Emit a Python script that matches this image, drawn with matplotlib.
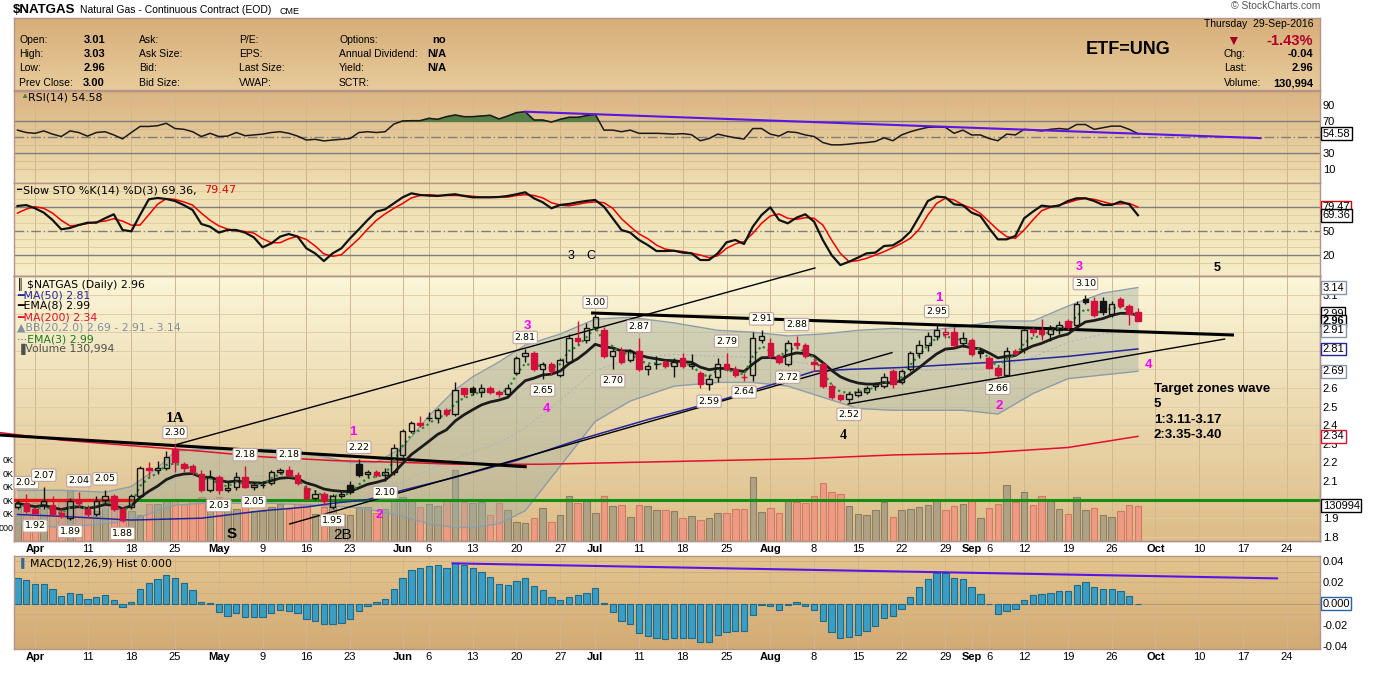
import numpy as np
import pandas as pd
import matplotlib
matplotlib.use("Agg")
import matplotlib.pyplot as plt
import matplotlib.transforms as mtransforms
from matplotlib.colors import LinearSegmentedColormap

plt.rcParams["font.family"] = ["Liberation Sans", "DejaVu Sans"]

# ---- $NATGAS daily, 30-Mar-2016 .. 29-Sep-2016 ----
holidays = ["2016-05-30", "2016-07-04", "2016-09-05"]

opens = [1.96, 1.98, 1.95, 1.97, 1.97, 1.93, 1.90, 2.00, 1.95, 1.92,
         2.00, 2.02, 1.95, 1.96, 2.02, 2.17, 2.16, 2.17, 2.27, 2.19,
         2.18, 2.14, 2.05, 2.12, 2.05, 2.07, 2.12, 2.07, 2.08, 2.09,
         2.15, 2.16, 2.13, 2.06, 2.01, 2.03, 1.96, 2.02, 2.08, 2.19,
         2.14, 2.15, 2.13, 2.15, 2.24, 2.37, 2.41, 2.44, 2.44, 2.48,
         2.46, 2.60, 2.60, 2.58, 2.60, 2.58, 2.57, 2.68, 2.77, 2.79,
         2.70, 2.73, 2.67, 2.74, 2.87, 2.86, 2.93, 2.91, 2.77, 2.80,
         2.75, 2.80, 2.70, 2.73, 2.74, 2.72, 2.76, 2.72, 2.68, 2.62,
         2.66, 2.73, 2.70, 2.66, 2.67, 2.86, 2.84, 2.77, 2.73, 2.84,
         2.83, 2.74, 2.73, 2.61, 2.56, 2.54, 2.56, 2.58, 2.61, 2.61,
         2.69, 2.63, 2.70, 2.79, 2.83, 2.88, 2.89, 2.90, 2.84, 2.86,
         2.80, 2.76, 2.71, 2.67, 2.80, 2.81, 2.91, 2.91, 2.89, 2.91,
         2.96, 2.94, 3.08, 3.07, 3.07, 3.00, 3.08, 3.04, 3.01]
highs = [2.00, 2.03, 1.96, 2.07, 2.02, 1.95, 2.01, 2.04, 1.97, 2.02,
         2.05, 2.03, 1.96, 2.03, 2.18, 2.20, 2.21, 2.26, 2.30, 2.20,
         2.19, 2.16, 2.16, 2.13, 2.10, 2.15, 2.18, 2.09, 2.10, 2.16,
         2.17, 2.18, 2.15, 2.08, 2.05, 2.04, 2.03, 2.05, 2.10, 2.22,
         2.16, 2.16, 2.17, 2.30, 2.38, 2.42, 2.45, 2.47, 2.49, 2.49,
         2.63, 2.60, 2.61, 2.62, 2.61, 2.59, 2.62, 2.77, 2.81, 2.80,
         2.74, 2.74, 2.76, 2.89, 2.96, 2.95, 3.00, 2.93, 2.81, 2.82,
         2.81, 2.87, 2.73, 2.77, 2.75, 2.76, 2.79, 2.78, 2.69, 2.67,
         2.76, 2.79, 2.72, 2.68, 2.90, 2.91, 2.87, 2.78, 2.86, 2.88,
         2.84, 2.76, 2.74, 2.62, 2.57, 2.58, 2.60, 2.61, 2.63, 2.68,
         2.70, 2.70, 2.80, 2.86, 2.90, 2.95, 2.92, 2.93, 2.90, 2.87,
         2.81, 2.77, 2.72, 2.82, 2.81, 2.92, 2.93, 2.97, 2.94, 2.96,
         2.97, 3.07, 3.10, 3.09, 3.09, 3.07, 3.09, 3.05, 3.03]
lows = [1.95, 1.93, 1.92, 1.95, 1.91, 1.90, 1.89, 1.96, 1.90, 1.91,
        1.98, 1.94, 1.88, 1.95, 2.01, 2.12, 2.14, 2.16, 2.15, 2.15,
        2.13, 2.04, 2.04, 2.03, 2.04, 2.05, 2.06, 2.05, 2.06, 2.08,
        2.14, 2.12, 2.08, 2.00, 2.00, 1.97, 1.95, 2.01, 2.03, 2.12,
        2.12, 2.12, 2.10, 2.13, 2.22, 2.36, 2.39, 2.42, 2.41, 2.45,
        2.45, 2.55, 2.56, 2.55, 2.57, 2.55, 2.55, 2.67, 2.74, 2.69,
        2.65, 2.67, 2.66, 2.73, 2.83, 2.84, 2.91, 2.76, 2.70, 2.73,
        2.74, 2.69, 2.67, 2.70, 2.71, 2.66, 2.71, 2.70, 2.60, 2.59,
        2.63, 2.69, 2.66, 2.64, 2.64, 2.84, 2.76, 2.73, 2.72, 2.81,
        2.76, 2.69, 2.60, 2.54, 2.53, 2.52, 2.55, 2.57, 2.59, 2.60,
        2.60, 2.62, 2.69, 2.76, 2.80, 2.86, 2.87, 2.82, 2.82, 2.77,
        2.76, 2.70, 2.66, 2.67, 2.77, 2.79, 2.88, 2.86, 2.85, 2.89,
        2.91, 2.93, 3.05, 2.98, 2.99, 2.98, 3.03, 2.94, 2.96]
closes = [1.98, 1.94, 1.93, 1.99, 1.92, 1.91, 1.99, 1.98, 1.92, 1.99,
          2.02, 1.95, 1.89, 2.02, 2.17, 2.16, 2.17, 2.23, 2.20, 2.17,
          2.15, 2.05, 2.12, 2.05, 2.06, 2.12, 2.07, 2.08, 2.08, 2.15,
          2.16, 2.13, 2.09, 2.01, 2.03, 1.99, 2.02, 2.03, 2.04, 2.13,
          2.15, 2.13, 2.15, 2.28, 2.37, 2.41, 2.40, 2.44, 2.48, 2.46,
          2.59, 2.57, 2.58, 2.60, 2.58, 2.57, 2.60, 2.76, 2.79, 2.70,
          2.73, 2.69, 2.75, 2.87, 2.85, 2.92, 2.98, 2.77, 2.80, 2.74,
          2.80, 2.70, 2.72, 2.73, 2.72, 2.74, 2.72, 2.73, 2.62, 2.65,
          2.73, 2.70, 2.67, 2.66, 2.87, 2.88, 2.77, 2.74, 2.84, 2.83,
          2.77, 2.73, 2.61, 2.55, 2.54, 2.57, 2.58, 2.60, 2.62, 2.66,
          2.62, 2.69, 2.79, 2.83, 2.88, 2.91, 2.90, 2.83, 2.87, 2.78,
          2.79, 2.71, 2.67, 2.80, 2.79, 2.91, 2.90, 2.89, 2.93, 2.94,
          2.93, 3.05, 3.06, 2.99, 3.01, 3.05, 3.04, 3.00, 2.96]
volume_k = [130, 137, 140, 150, 125, 150, 187, 150, 112, 112,
            145, 162, 137, 112, 95, 137, 137, 150, 150, 137,
            150, 162, 130, 162, 125, 118, 137, 112, 112, 125,
            137, 118, 137, 137, 100, 125, 130, 100, 95, 125,
            125, 105, 118, 150, 162, 150, 125, 137, 130, 150,
            262, 146, 141, 146, 96, 141, 115, 71, 66, 85,
            122, 71, 96, 167, 141, 152, 104, 167, 130, 134,
            90, 134, 130, 115, 115, 110, 85, 92, 77, 85,
            104, 104, 118, 118, 238, 107, 122, 104, 150, 145,
            141, 167, 216, 182, 175, 130, 100, 96, 115, 145,
            89, 115, 118, 127, 134, 150, 116, 130, 137, 150,
            85, 122, 137, 208, 145, 182, 134, 167, 150, 118,
            100, 162, 115, 122, 96, 89, 111, 134, 131]

rsi = [59, 56, 55, 58, 54, 51, 58, 56, 51.5, 56,
       57, 53, 48, 56, 63.6, 63.6, 64.5, 67.5, 61, 60,
       57, 51, 55, 51, 51.5, 56, 52, 53, 54, 56,
       57, 55, 51.5, 46.6, 47.5, 45.5, 46.6, 47.5, 48.5, 56,
       57, 56, 57, 66.6, 70.4, 70.8, 70.8, 73.7, 72.5, 75.8,
       77.9, 75.8, 75.8, 76.6, 77.5, 72.9, 76.6, 80.8, 82, 71.6,
       71.6, 69, 72.5, 75, 75, 77, 78.7, 59, 59, 57,
       59, 55, 55, 55, 54.6, 54, 54.6, 53.3, 45.7, 48.5,
       54, 51.5, 49.4, 47.8, 61, 61, 54, 51.5, 57, 56,
       53, 51, 43.5, 40.6, 40.6, 41.5, 42.7, 43.5, 44.8, 49.4,
       45.7, 53, 57, 60, 62.5, 63, 62.5, 55, 59, 53,
       53, 48.5, 45.7, 54, 53, 60, 59, 58, 60, 61,
       60, 66, 66, 60, 62, 64, 64, 60, 54.58]
sto_k = [80.9, 82, 78, 72.6, 63.4, 51.7, 53.4, 57.1, 60, 60,
         65.5, 70.5, 50.9, 49.2, 69.6, 89.2, 90.9, 89.6, 87.1, 82,
         75.9, 58.4, 55, 47.6, 50.9, 50.9, 47.6, 41.7, 29.2, 34.2,
         42.6, 45.9, 42.6, 28, 21.7, 12.1, 21.7, 28, 40.5, 51.7,
         63.4, 73.8, 76.7, 84.2, 91.7, 96.7, 94.6, 93.8, 93.4, 94.6,
         95.5, 93.4, 91.7, 91.7, 91.7, 92.1, 93.4, 95.5, 98, 90.5,
         85.5, 78, 82.2, 83.4, 85.5, 87.2, 88.4, 80, 65.5, 50.9,
         47.6, 38.4, 32.1, 24.6, 24.6, 25, 22.6, 21.7, 13.4, 13.4,
         21.7, 35.5, 38.4, 33.4, 55, 69.6, 79.2, 63.4, 59.2, 66.3,
         70.5, 61.3, 38.4, 19.6, 7.1, 11.3, 16.3, 21.7, 22.6, 30.9,
         31.7, 38.4, 48.8, 67.5, 87.1, 92.5, 91.7, 83, 81.7, 72.6,
         68.4, 53, 39.2, 39.2, 43.4, 65.5, 73.8, 81.3, 80, 81.3,
         87.1, 90.5, 90.5, 87.1, 82.2, 82.2, 86.3, 83, 69.36]
sto_d = [72, 77, 80, 78, 72, 63, 56, 57, 59, 61,
         62, 65, 62, 57, 57, 70, 83, 90, 89, 86,
         82, 72, 63, 56, 52, 50, 49, 47, 40, 35,
         35, 40, 43, 39, 31, 21, 18, 20, 30, 40,
         52, 63, 71, 78, 84, 91, 94, 95, 94, 94,
         94, 94, 93, 92, 92, 92, 92, 94, 95, 94,
         91, 85, 82, 81, 83, 85, 86, 85, 78, 65,
         55, 46, 40, 32, 27, 25, 24, 22, 19.6, 16.3,
         18.8, 28, 33.4, 36.3, 46.7, 59.2, 68.4, 70.9, 65.5, 64.2,
         66.3, 65.5, 57.1, 38.4, 21.7, 11.3, 12.6, 15.5, 19.6, 23.8,
         28.8, 34.2, 40.5, 51.7, 69.6, 84.2, 90.5, 88.4, 82.2, 78,
         71.7, 61.3, 50.9, 42.6, 40.5, 50.9, 63.4, 75, 79.2, 82.2,
         85, 88.4, 90.5, 89.2, 86.3, 83.4, 83.4, 84.2, 79.47]
macd_hist = [0.0246, 0.0221, 0.0184, 0.0184, 0.0134, 0.0072, 0.0097, 0.0091, 0.0041, 0.0060,
             0.0081, 0.0031, -0.0028, 0.0016, 0.0134, 0.0190, 0.0228, 0.0269, 0.0238, 0.0190,
             0.0125, 0.0016, 0.0003, -0.0078, -0.0116, -0.0091, -0.0122, -0.0129, -0.0129, -0.0091,
             -0.0059, -0.0066, -0.0091, -0.0147, -0.0160, -0.0191, -0.0191, -0.0179, -0.0147, -0.0072,
             -0.0019, 0.0013, 0.0041, 0.0134, 0.0238, 0.0313, 0.0332, 0.0354, 0.0363, 0.0332,
             0.0379, 0.0363, 0.0332, 0.0301, 0.0248, 0.0182, 0.0176, 0.0216, 0.0238, 0.0169,
             0.0125, 0.0060, 0.0035, 0.0066, 0.0079, 0.0103, 0.0144, 0.0003, -0.0078, -0.0163,
             -0.0191, -0.0279, -0.0304, -0.0326, -0.0335, -0.0326, -0.0326, -0.0320, -0.0357, -0.0357,
             -0.0295, -0.0266, -0.0254, -0.0254, -0.0106, -0.0016, -0.0022, -0.0059, -0.0013, 0.0016,
             -0.0022, -0.0059, -0.0163, -0.0266, -0.0326, -0.0316, -0.0295, -0.0254, -0.0210, -0.0138,
             -0.0116, -0.0053, 0.0060, 0.0154, 0.0228, 0.0291, 0.0291, 0.0238, 0.0228, 0.0154,
             0.0091, -0.0003, -0.0097, -0.0066, -0.0053, 0.0031, 0.0078, 0.0091, 0.0103, 0.0122,
             0.0116, 0.0175, 0.0200, 0.0159, 0.0134, 0.0134, 0.0116, 0.0072, -0.0006]

# overlay lines, read at a few days
bb_x = [0, 5, 10, 13, 16, 18, 21, 25, 29, 34, 38, 41, 44, 47, 50, 52, 55, 58, 62, 66,
        70, 75, 80, 84, 88, 92, 96, 100, 104, 108, 112, 116, 120, 124, 128]
bb_upper = [2.05, 2.05, 2.04, 2.07, 2.17, 2.26, 2.27, 2.27, 2.27, 2.24, 2.20, 2.20, 2.28, 2.45,
            2.59, 2.66, 2.74, 2.83, 2.89, 2.97, 2.98, 2.95, 2.91, 2.90, 2.88, 2.89, 2.91, 2.92,
            2.91, 2.93, 2.96, 2.96, 3.04, 3.11, 3.14]
bb_lower = [1.87, 1.85, 1.87, 1.89, 1.94, 1.97, 1.98, 1.98, 1.98, 1.97, 1.96, 1.94, 1.91, 1.87,
            1.85, 1.85, 1.87, 1.94, 2.18, 2.42, 2.53, 2.61, 2.63, 2.63, 2.61, 2.55, 2.49, 2.48,
            2.48, 2.48, 2.46, 2.57, 2.65, 2.67, 2.69]
ma50_x = [0, 5, 13, 21, 28, 33, 36, 40, 44, 50, 57, 64, 72, 80, 87, 91, 95, 101, 112, 120, 128]
ma50 = [1.92, 1.91, 1.89, 1.90, 1.94, 1.96, 1.98, 2.00, 2.05, 2.12, 2.21, 2.32, 2.43, 2.53,
        2.63, 2.69, 2.70, 2.71, 2.74, 2.77, 2.81]
ma200_x = [-2, 5, 13, 21, 28, 36, 44, 50, 60, 70, 80, 90, 100, 110, 120, 128]
ma200 = [2.36, 2.32, 2.29, 2.26, 2.23, 2.21, 2.20, 2.19, 2.19, 2.20, 2.21, 2.22, 2.24, 2.25,
         2.28, 2.34]

# hand-drawn trend lines: (day0, price0, day1, price1)
trend_lines = [(-2.0, 2.347, 58.0, 2.177), (18.0, 2.294, 91.1, 3.245),
               (31.1, 1.869, 99.9, 2.790), (65.7, 3.003, 138.8, 2.885),
               (94.9, 2.514, 137.9, 2.863)]
rsi_trend = [(58, 82.0), (142, 49.0)]
macd_trend = [(49.7, 0.0379), (143.9, 0.0238)]

# swing highs / lows that carry a price tag
swing_high = [1, 3, 7, 10, 18, 26, 31, 39, 58, 66, 71, 81, 85, 89, 105, 122]
swing_low = [2, 6, 12, 23, 27, 36, 42, 60, 68, 79, 83, 88, 95, 112]

tick_dates = ["2016-04-01", "2016-04-11", "2016-04-18", "2016-04-25", "2016-05-02",
              "2016-05-09", "2016-05-16", "2016-05-23", "2016-06-01", "2016-06-06",
              "2016-06-13", "2016-06-20", "2016-06-27", "2016-07-01", "2016-07-11",
              "2016-07-18", "2016-07-25", "2016-08-01", "2016-08-08", "2016-08-15",
              "2016-08-22", "2016-08-29", "2016-09-01", "2016-09-06", "2016-09-12",
              "2016-09-19", "2016-09-26", "2016-10-03", "2016-10-10", "2016-10-17",
              "2016-10-24"]
tick_labels = ["Apr", "11", "18", "25", "May", "9", "16", "23", "Jun", "6", "13", "20", "27",
               "Jul", "11", "18", "25", "Aug", "8", "15", "22", "29", "Sep", "6", "12", "19",
               "26", "Oct", "10", "17", "24"]

# ---------------------------------------------------------------------------
days = pd.bdate_range("2016-03-30", "2016-10-31", freq="C", holidays=holidays)
tick_pos = [days.get_loc(pd.Timestamp(t)) for t in tick_dates]

o, h, l, c = (np.array(v) for v in (opens, highs, lows, closes))
x = np.arange(len(c))
prev = np.r_[c[0], c[:-1]]
up = c >= prev
ema8 = pd.Series(c).ewm(span=8, adjust=False).mean()
ema3 = pd.Series(c).ewm(span=3, adjust=False).mean()
bb_mid = (np.array(bb_upper) + np.array(bb_lower)) / 2

W, H = 1375, 674
fig = plt.figure(figsize=(W / 100, H / 100), dpi=100)
fig.patch.set_facecolor("white")
XL = (-0.4, 148.8)
GRID = "#CFB78F"
BORDER = "#B3938A"


def pax(x0, y0, x1, y1):
    return fig.add_axes([x0 / W, 1 - y1 / H, (x1 - x0) / W, (y1 - y0) / H])


def ftext(px, py, s, **kw):
    kw.setdefault("va", "center")
    return fig.text(px / W, 1 - py / H, s, **kw)


def shade(ax, top, bottom):
    cm = LinearSegmentedColormap.from_list("g", [bottom, top])
    ax.imshow(np.linspace(0, 1, 64).reshape(-1, 1), cmap=cm, aspect="auto",
              extent=[0, 1, 0, 1], origin="lower", transform=ax.transAxes, zorder=0)


def frame(ax):
    for s in ax.spines.values():
        s.set_color(BORDER)
        s.set_linewidth(1)
    ax.tick_params(length=0, labelsize=8, pad=2)


def vgrid(ax):
    for p in tick_pos:
        ax.axvline(p, color=GRID, lw=0.7, zorder=0.5)


def rbox(ax, yv, s, ec, ytrans=None, bold=False, tc="black"):
    tr = mtransforms.blended_transform_factory(ax.transAxes, ytrans or ax.transData)
    ax.text(1.002, yv, s, transform=tr, ha="left", va="center", fontsize=8, color=tc,
            fontweight="bold" if bold else "normal", clip_on=False, zorder=30,
            bbox=dict(boxstyle="square,pad=0.12", fc="white", ec=ec, lw=1))


# ---- title + header ----
ftext(13, 10, "$NATGAS", fontsize=9.5, fontweight="bold")
ftext(80, 10, "Natural Gas - Continuous Contract (EOD)", fontsize=7.5)
ftext(279, 11, "CME", fontsize=6.5)
ftext(1320, 6, "\u00a9 StockCharts.com", fontsize=7.5, ha="right", color="#555555")

hdr = pax(14, 18, 1320, 90)
shade(hdr, "#D6AE79", "#E8CB9B")
hdr.set_xlim(0, 1)
hdr.set_ylim(0, 1)
hdr.set_xticks([])
hdr.set_yticks([])
frame(hdr)

rows = [40, 54, 68, 83]
for lab, val, yy in zip(["Open:", "High:", "Low:", "Prev Close:"],
                        [o[-1], h[-1], l[-1], c[-2]], rows):
    ftext(19, yy, lab, fontsize=7.5)
    ftext(105, yy, f"{val:.2f}", fontsize=8, fontweight="bold", ha="right")
for lab, yy in zip(["Ask:", "Ask Size:", "Bid:", "Bid Size:"], rows):
    ftext(139, yy, lab, fontsize=7.5)
for lab, yy in zip(["P/E:", "EPS:", "Last Size:", "VWAP:"], rows):
    ftext(239, yy, lab, fontsize=7.5)
for lab, val, yy in zip(["Options:", "Annual Dividend:", "Yield:", "SCTR:"],
                        ["no", "N/A", "N/A", ""], rows):
    ftext(339, yy, lab, fontsize=7.5)
    ftext(446, yy, val, fontsize=8, fontweight="bold", ha="right")
ftext(1128, 50, "ETF=UNG", fontsize=13, fontweight="bold", ha="center")
ftext(1313, 24, "Thursday  29-Sep-2016", fontsize=7.5, ha="right")
ftext(1233, 41, "\u25bc", fontsize=10, color="#A3002A", ha="center")
ftext(1313, 41, "-1.43%", fontsize=10.5, fontweight="bold", color="#B0002A", ha="right")
for lab, val, yy in zip(["Chg:", "Last:", "Volume:"],
                        [f"{c[-1] - c[-2]:.2f}", f"{c[-1]:.2f}", "130,994"], rows[1:]):
    ftext(1224, yy, lab, fontsize=7.5)
    ftext(1313, yy, val, fontsize=8, fontweight="bold", ha="right")

# ---- RSI panel ----
ar = pax(14, 91, 1320, 183)
shade(ar, "#DCB481", "#EEDDB0")
vgrid(ar)
for v in [10, 20, 40, 60, 80, 90, 100]:
    ar.axhline(v, color="#D3BC93", lw=0.6, zorder=0.6)
ar.axhline(70, color="#7E7E7E", lw=1, zorder=1)
ar.axhline(30, color="#7E7E7E", lw=1, zorder=1)
ar.axhline(50, color="#7E7E7E", lw=1, ls=(0, (7, 2, 1, 2)), zorder=1)
ra = np.array(rsi)
ar.fill_between(x, ra, 70, where=ra > 70, interpolate=True, color="#567F45", zorder=2)
ar.plot(x, ra, color="#1A1A1A", lw=1.1, zorder=3)
ar.plot([p[0] for p in rsi_trend], [p[1] for p in rsi_trend], color="#5A14E6", lw=1.5, zorder=4)
ar.set_xlim(*XL)
ar.set_ylim(-7.1, 107.9)
ar.set_xticks([])
ar.yaxis.tick_right()
ar.set_yticks([10, 30, 70, 90])
frame(ar)
rbox(ar, rsi[-1], f"{rsi[-1]:.2f}", "black")
ftext(20, 97, "\u25b2", fontsize=6, color="#4F7F3F")
ftext(28, 97, "RSI(14) 54.58", fontsize=7.8, family="DejaVu Sans")

# ---- Slow stochastic panel ----
ast = pax(14, 183, 1320, 276)
shade(ast, "#EEDDAF", "#F6EDC6")
vgrid(ast)
for v in [10, 30, 40, 60, 70, 90, 100]:
    ast.axhline(v, color="#DCC9A0", lw=0.6, zorder=0.6)
ast.axhline(80, color="#7E7E7E", lw=1, zorder=1)
ast.axhline(20, color="#7E7E7E", lw=1, zorder=1)
ast.axhline(50, color="#7E7E7E", lw=1, ls=(0, (7, 2, 1, 2)), zorder=1)
ast.plot(x, sto_d, color="#F00000", lw=1.1, zorder=3)
ast.plot(x, sto_k, color="#111111", lw=1.6, zorder=4)
ast.set_xlim(*XL)
ast.set_ylim(-6.6, 109.6)
ast.set_xticks([])
ast.yaxis.tick_right()
ast.set_yticks([20, 50])
frame(ast)
rbox(ast, sto_d[-1], f"{sto_d[-1]:.2f}", "#E00000")
rbox(ast, sto_k[-1], f"{sto_k[-1]:.2f}", "black")
ftext(16, 190, "\u2501", fontsize=6)
ftext(23, 190, "Slow STO %K(14) %D(3) 69.36,", fontsize=8, family="DejaVu Sans")
ftext(204, 190, "79.47", fontsize=8, family="DejaVu Sans", color="#E00000")
ast.text(63.2, 18.4, "3", fontsize=9, ha="center", va="center")
ast.text(65.5, 18.4, "C", fontsize=9, ha="center", va="center")
ast.text(121.3, 4.6, "3", fontsize=9, fontweight="bold", color="#FF00FF", ha="center", va="center")
ast.text(137.1, 3.4, "5", fontsize=9, fontweight="bold", ha="center", va="center")

# ---- price panel (volume axis underneath) ----
av = pax(14, 276, 1320, 541)
shade(av, "#FBF6D8", "#DDBD88")
ax = av.twinx()
av.set_xlim(*XL)
av.set_ylim(0, 980)
ax.set_ylim(1.7774, 3.202)
vgrid(av)
ptr = mtransforms.blended_transform_factory(av.transAxes, ax.transData)
for p in np.arange(1.8, 3.25, 0.1):
    av.plot([0, 1], [p, p], transform=ptr, color="#DCCBA2", lw=0.6, zorder=0.6)
av.bar(x, volume_k, width=0.75, color=np.where(up, "#AEA184", "#EC9B84"),
       edgecolor=np.where(up, "#8C7F64", "#D77962"), lw=0.8, zorder=1)
av.yaxis.tick_left()
av.set_yticks([50, 100, 150, 200, 250, 300])
av.set_yticklabels(["000", "0K", "0K", "0K", "0K", "0K"])
av.set_xticks(tick_pos)
av.set_xticklabels(tick_labels)
frame(av)
av.tick_params(axis="y", pad=0.5, labelsize=6.5)
for t in av.get_xticklabels():
    if t.get_text().isalpha():
        t.set_fontweight("bold")

ax.fill_between(bb_x, bb_lower, bb_upper, color="#9FAD9E", alpha=0.42, lw=0, zorder=2)
ax.plot(bb_x, bb_upper, color="#8E9DAA", lw=1, zorder=2.2)
ax.plot(bb_x, bb_lower, color="#8E9DAA", lw=1, zorder=2.2)
ax.plot(bb_x, bb_mid, color="#AEB6B8", lw=0.8, ls=(0, (2, 2)), zorder=2.2)
ax.axhline(2.0, color="#119011", lw=2.2, zorder=2.5)
ax.plot([-0.4, 13.2], [2.0, 2.0], color="#E41414", lw=2.4, zorder=2.6)
ax.plot(ma200_x, ma200, color="#E3102C", lw=1.1, zorder=3, clip_on=False)
ax.plot(ma50_x, ma50, color="#24249E", lw=1.1, zorder=3)
for i0, p0, i1, p1 in trend_lines:
    thick = abs(p1 - p0) / abs(i1 - i0) < 0.004
    ax.plot([i0, i1], [p0, p1], color="black", lw=2.2 if thick else 1.0, zorder=3.2,
            clip_on=False)
ax.plot(x, ema8, color="#1C1C1C", lw=2, zorder=3.5)
ax.plot(x, ema3, color="#23892A", lw=1.6, ls=(0, (1, 1.5)), zorder=3.6)

# candles
col = np.where(up, "#141414", "#D3103B")
lo_b = np.minimum(o, c)
hi_b = np.maximum(o, c)
ax.vlines(x, hi_b, h, colors=col, lw=1, zorder=5)
ax.vlines(x, l, lo_b, colors=col, lw=1, zorder=5)
face = [("none" if c[k] > o[k] else col[k]) for k in range(len(c))]
ax.bar(x, np.maximum(hi_b - lo_b, 0.001), bottom=lo_b, width=0.62, color=face,
       edgecolor=col, lw=1, zorder=6)

tag = dict(ha="center", fontsize=6.8, family="DejaVu Sans", zorder=8,
           bbox=dict(boxstyle="round,pad=0.18", fc="#FFFFF6", ec="#BFA2A2", lw=0.8))
for k in swing_high:
    ax.annotate(f"{h[k]:.2f}", (k, h[k]), xytext=(0, 5), textcoords="offset points",
                va="bottom", **tag)
for k in swing_low:
    ax.annotate(f"{l[k]:.2f}", (k, l[k]), xytext=(0, -5), textcoords="offset points",
                va="top", **tag)

ax.set_xlim(*XL)
ax.set_yticks([1.8, 1.9, 2.1, 2.2, 2.3, 2.4, 2.5, 2.6, 3.1])
ax.set_yticklabels(["1.8", "1.9", "2.1", "2.2", "2.3", "2.4", "2.5", "2.6", "3.1"])
frame(ax)

# wave labels
mag = dict(color="#FF00FF", fontsize=9.5, fontweight="bold", ha="center", va="center")
for s, xi, yp in [("1", 38.3, 2.363), ("2", 41.3, 1.917), ("3", 58.2, 2.933), ("4", 60.4, 2.487),
                  ("1", 105.3, 3.084), ("2", 112.1, 2.503), ("4", 129.2, 2.724)]:
    ax.text(xi, yp, s, **mag)
ax.text(18.0, 2.435, "1A", fontsize=11, fontweight="bold", family="Liberation Serif",
        ha="center", va="center")
ax.text(24.5, 1.815, "S", fontsize=11, fontweight="bold", ha="center", va="center")
ax.text(37.1, 1.81, "2B", fontsize=11, ha="center", va="center")
ax.text(94.3, 2.342, "4", fontsize=10, fontweight="bold", family="Liberation Serif",
        ha="center", va="center")
ax.text(129.8, 2.627, "Target zones wave\n5\n1:3.11-3.17\n2:3.35-3.40", fontsize=9.5,
        fontweight="bold", ha="left", va="top", linespacing=1.38)

# right side value boxes (2.99 sits partly under the last-close tag, as on the chart)
rbox(ax, 3.14, "3.14", "#8797A8")
rbox(ax, 3.0, "2.99", "black")
rbox(ax, c[-1], f"{c[-1]:.2f}", "black", bold=True)
rbox(ax, 2.91, "2.91", "#8797A8")
rbox(ax, ma50[-1], f"{ma50[-1]:.2f}", "#24249E")
rbox(ax, 2.69, "2.69", "#8797A8")
rbox(ax, ma200[-1], f"{ma200[-1]:.2f}", "#E3102C")
rbox(ax, volume_k[-1] - 0.006, "130994", "black", ytrans=av.transData)

# legend block
leg = [("\u2551 $NATGAS (Daily) 2.96", "black", 284), ("\u2501MA(50) 2.81", "#24249E", 295),
       ("\u2501EMA(8) 2.99", "black", 306), ("\u2501MA(200) 2.34", "#E3102C", 317),
       ("\u25b2BB(20,2.0) 2.69 - 2.91 - 3.14", "#8090A0", 328),
       ("\u00b7\u00b7\u00b7EMA(3) 2.99", "#1E7A1E", 339), ("\u2590Volume 130,994", "#505050", 349)]
for s, cc, yy in leg:
    ftext(17, yy, s, fontsize=7.8, color=cc, family="DejaVu Sans")

# ---- MACD panel ----
am = pax(14, 556, 1320, 649)
shade(am, "#E3C590", "#D4AA73")
vgrid(am)
for v in [-0.04, -0.03, -0.02, -0.01, 0.01, 0.02, 0.03, 0.04]:
    am.axhline(v, color="#CDAE80", lw=0.6, zorder=0.6)
am.axhline(0, color="#B89A74", lw=0.8, zorder=0.7)
am.bar(x, macd_hist, width=0.72, color="#3A9DC3", edgecolor="#1E6B8C", lw=0.8, zorder=2)
am.plot([p[0] for p in macd_trend], [p[1] for p in macd_trend], color="#5A14E6", lw=1.5, zorder=3)
am.set_xlim(*XL)
am.set_ylim(-0.0425, 0.0448)
am.yaxis.tick_right()
am.set_yticks([-0.04, -0.02, 0.02, 0.04])
am.set_yticklabels(["-0.04", "-0.02", "0.02", "0.04"])
am.set_xticks(tick_pos)
am.set_xticklabels(tick_labels)
frame(am)
for t in am.get_xticklabels():
    if t.get_text().isalpha():
        t.set_fontweight("bold")
rbox(am, 0.0, "0.000", "#2A62A8")
ftext(18, 563, "\u2590", fontsize=6.5, color="#2A6AA0")
ftext(30, 563, "MACD(12,26,9) Hist 0.000", fontsize=7.8, family="DejaVu Sans")

fig.savefig("out.png", dpi=100)
